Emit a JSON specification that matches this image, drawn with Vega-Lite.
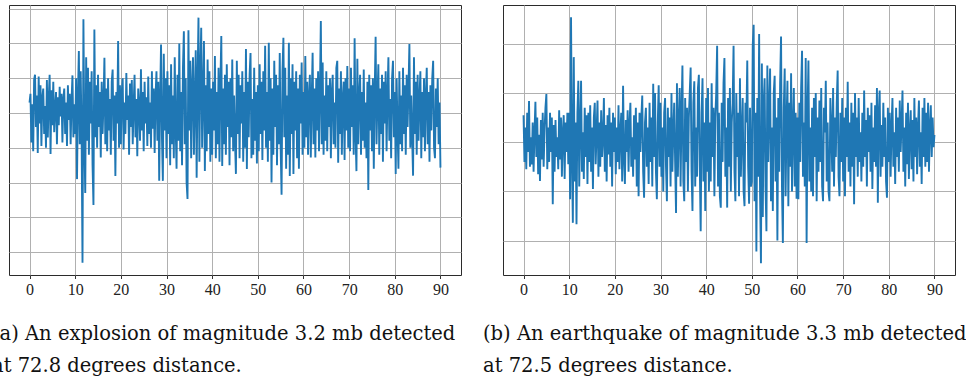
{
  "$schema": "https://vega.github.io/schema/vega-lite/v6.json",
  "background": "white",
  "padding": {"left": -9, "top": 4, "right": 0, "bottom": 0},
  "autosize": {"type": "pad"},
  "spacing": 42,
  "bounds": "flush",
  "config": {
    "view": {"stroke": "#2b2b2b", "strokeWidth": 1},
    "axis": {"gridColor": "#b0b0b0", "gridWidth": 1, "domain": false, "labelFont": "Liberation Serif", "labelFontSize": 16, "labelColor": "#222222", "tickColor": "#333333", "tickSize": 3.5, "labelPadding": 3, "title": null},
    "line": {"color": "#1f77b4", "strokeWidth": 1.9}
  },
  "data": {"values": [
{"t":0,"a":0.3,"b":0.55},{"t":0.2,"a":0.55,"b":-0.4},{"t":0.4,"a":-0.85,"b":0.3},{"t":0.6,"a":0.25,"b":-0.55},{"t":0.8,"a":-1.1,"b":0.6},{"t":1,"a":0.95,"b":-0.2},{"t":1.2,"a":1.1,"b":0.84},{"t":1.4,"a":-0.4,"b":-0.5},{"t":1.6,"a":0.5,"b":0.1},{"t":1.8,"a":-1.15,"b":-0.45},
{"t":2,"a":1.05,"b":0.4},{"t":2.2,"a":-0.3,"b":-0.6},{"t":2.4,"a":0.8,"b":0.2},{"t":2.6,"a":-0.95,"b":0.82},{"t":2.8,"a":0.45,"b":-0.3},{"t":3,"a":0.7,"b":0.5},{"t":3.2,"a":-0.6,"b":-0.65},{"t":3.4,"a":0.2,"b":0.15},{"t":3.6,"a":-1,"b":-0.79},{"t":3.8,"a":0.95,"b":0.45},
{"t":4,"a":-0.7,"b":-0.35},{"t":4.2,"a":0.4,"b":0.6},{"t":4.4,"a":1.1,"b":-0.5},{"t":4.6,"a":-1.18,"b":0.25},{"t":4.8,"a":0.65,"b":0.7},{"t":5,"a":-0.35,"b":0.98},{"t":5.2,"a":0.9,"b":-0.55},{"t":5.4,"a":-0.55,"b":0.3},{"t":5.6,"a":0.15,"b":-0.4},{"t":5.8,"a":0.6,"b":0.6},
{"t":6,"a":-0.9,"b":-0.2},{"t":6.2,"a":0.45,"b":0.5},{"t":6.4,"a":-0.35,"b":-1.26},{"t":6.6,"a":0.75,"b":0.35},{"t":6.8,"a":-0.1,"b":-0.6},{"t":7,"a":0.55,"b":0.45},{"t":7.2,"a":-0.85,"b":-0.3},{"t":7.4,"a":0.4,"b":0.1},{"t":7.6,"a":0.7,"b":-0.55},{"t":7.8,"a":-0.6,"b":0.65},
{"t":8,"a":0.3,"b":-0.35},{"t":8.2,"a":-0.95,"b":0.5},{"t":8.4,"a":0.8,"b":-0.7},{"t":8.6,"a":-0.2,"b":0.2},{"t":8.8,"a":0.55,"b":0.55},{"t":9,"a":-0.9,"b":-0.75},{"t":9.2,"a":0.35,"b":0.4},{"t":9.4,"a":1.08,"b":-0.2},{"t":9.6,"a":-0.7,"b":0.6},{"t":9.8,"a":0.25,"b":-0.45},
{"t":10,"a":-0.6,"b":0.6},{"t":10.2,"a":1,"b":-1.16},{"t":10.4,"a":-1.9,"b":2.54},{"t":10.6,"a":0.5,"b":-0.3},{"t":10.8,"a":1.78,"b":-1.64},{"t":11,"a":-0.9,"b":1.73},{"t":11.2,"a":1.2,"b":-0.8},{"t":11.4,"a":-0.6,"b":0.4},{"t":11.6,"a":-4.3,"b":-1.67},{"t":11.8,"a":2.69,"b":0.6},
{"t":12,"a":-0.7,"b":1.25},{"t":12.2,"a":-2.3,"b":-0.9},{"t":12.4,"a":1.6,"b":0.3},{"t":12.6,"a":-0.8,"b":1.25},{"t":12.8,"a":1.3,"b":-0.6},{"t":13,"a":-1.2,"b":0.2},{"t":13.2,"a":0.9,"b":-0.75},{"t":13.4,"a":-0.3,"b":0.7},{"t":13.6,"a":1.2,"b":-0.3},{"t":13.8,"a":-1.5,"b":0.55},
{"t":14,"a":-2.64,"b":-0.85},{"t":14.2,"a":2.4,"b":0.6},{"t":14.4,"a":-0.7,"b":-0.4},{"t":14.6,"a":0.8,"b":0.75},{"t":14.8,"a":-1,"b":-0.6},{"t":15,"a":1.1,"b":0.3},{"t":15.2,"a":-0.4,"b":-0.95},{"t":15.4,"a":0.6,"b":0.5},{"t":15.6,"a":-1.28,"b":0.8},{"t":15.8,"a":0.9,"b":-0.45},
{"t":16,"a":-0.6,"b":0.2},{"t":16.2,"a":0.3,"b":0.85},{"t":16.4,"a":1.59,"b":-0.7},{"t":16.6,"a":-0.9,"b":0.4},{"t":16.8,"a":0.7,"b":-0.5},{"t":17,"a":-1.1,"b":0.65},{"t":17.2,"a":1,"b":-0.3},{"t":17.4,"a":-0.5,"b":0.1},{"t":17.6,"a":0.4,"b":0.9},{"t":17.8,"a":-1.2,"b":-0.6},
{"t":18,"a":0.9,"b":0.35},{"t":18.2,"a":1.25,"b":-0.8},{"t":18.4,"a":-0.8,"b":0.55},{"t":18.6,"a":0.5,"b":-0.25},{"t":18.8,"a":-1.81,"b":0.7},{"t":19,"a":0.6,"b":-0.5},{"t":19.2,"a":-0.3,"b":0.4},{"t":19.4,"a":2.07,"b":-0.9},{"t":19.6,"a":-1,"b":0.6},{"t":19.8,"a":0.8,"b":-0.2},
{"t":20,"a":-0.9,"b":0.5},{"t":20.2,"a":0.6,"b":-0.65},{"t":20.4,"a":1,"b":0.3},{"t":20.6,"a":-1.05,"b":-0.4},{"t":20.8,"a":0.3,"b":0.75},{"t":21,"a":-0.6,"b":-0.55},{"t":21.2,"a":1.15,"b":0.2},{"t":21.4,"a":-0.2,"b":0.6},{"t":21.6,"a":0.5,"b":-0.8},{"t":21.8,"a":-1.2,"b":1.15},
{"t":22,"a":0.85,"b":-0.3},{"t":22.2,"a":-0.4,"b":-0.85},{"t":22.4,"a":0.95,"b":0.45},{"t":22.6,"a":-0.9,"b":-0.2},{"t":22.8,"a":0.2,"b":0.65},{"t":23,"a":1.1,"b":-0.6},{"t":23.2,"a":-0.7,"b":0.35},{"t":23.4,"a":0.4,"b":0.8},{"t":23.6,"a":-1.24,"b":-0.5},{"t":23.8,"a":0.7,"b":0.1},
{"t":24,"a":0.2,"b":-0.7},{"t":24.2,"a":-0.8,"b":0.55},{"t":24.4,"a":1.26,"b":-0.35},{"t":24.6,"a":-0.5,"b":0.7},{"t":24.8,"a":0.6,"b":-0.9},{"t":25,"a":-1.1,"b":0.4},{"t":25.2,"a":0.9,"b":-1.1},{"t":25.4,"a":-0.3,"b":0.6},{"t":25.6,"a":0.45,"b":-0.2},{"t":25.8,"a":-0.95,"b":0.5},
{"t":26,"a":1.05,"b":0.95},{"t":26.2,"a":-0.6,"b":-0.6},{"t":26.4,"a":0.3,"b":-1.13},{"t":26.6,"a":-1,"b":0.4},{"t":26.8,"a":1.2,"b":0.7},{"t":27,"a":-0.45,"b":-0.5},{"t":27.2,"a":0.7,"b":0.3},{"t":27.4,"a":-1.15,"b":-0.85},{"t":27.6,"a":0.5,"b":0.8},{"t":27.8,"a":1.2,"b":-0.4},
{"t":28,"a":-0.8,"b":0.5},{"t":28.2,"a":0.9,"b":-0.9},{"t":28.4,"a":-1.95,"b":1.19},{"t":28.6,"a":0.4,"b":-0.3},{"t":28.8,"a":1.97,"b":1},{"t":29,"a":-0.7,"b":-0.6},{"t":29.2,"a":-1.95,"b":-1.16},{"t":29.4,"a":1.7,"b":0.4},{"t":29.6,"a":-0.5,"b":1.16},{"t":29.8,"a":1,"b":-0.5},
{"t":30,"a":-1.3,"b":0.8},{"t":30.2,"a":1.2,"b":-0.7},{"t":30.4,"a":-0.6,"b":0.3},{"t":30.6,"a":0.8,"b":-1},{"t":30.8,"a":-1.5,"b":0.6},{"t":31,"a":1.4,"b":0.9},{"t":31.2,"a":-0.9,"b":-0.5},{"t":31.4,"a":0.5,"b":-1.2},{"t":31.6,"a":-1.3,"b":0.7},{"t":31.8,"a":1.6,"b":-0.3},
{"t":32,"a":-0.4,"b":0.5},{"t":32.2,"a":-1.6,"b":-0.9},{"t":32.4,"a":1.1,"b":1},{"t":32.6,"a":-0.8,"b":-0.6},{"t":32.8,"a":2,"b":0.2},{"t":33,"a":-1.1,"b":0.8},{"t":33.2,"a":0.6,"b":-0.4},{"t":33.4,"a":-1.5,"b":-1.44},{"t":33.6,"a":1.3,"b":1.2},{"t":33.8,"a":2.35,"b":-0.7},
{"t":34,"a":-0.9,"b":0.4},{"t":34.2,"a":1,"b":1.1},{"t":34.4,"a":-2,"b":-0.9},{"t":34.6,"a":-2.47,"b":0.6},{"t":34.8,"a":2.38,"b":1.56},{"t":35,"a":-0.5,"b":-0.8},{"t":35.2,"a":1.5,"b":-1.2},{"t":35.4,"a":-1.3,"b":0.9},{"t":35.6,"a":0.7,"b":-0.4},{"t":35.8,"a":1.6,"b":0.7},
{"t":36,"a":-1.2,"b":-1},{"t":36.2,"a":0.4,"b":0.5},{"t":36.4,"a":1.8,"b":1},{"t":36.6,"a":-1.86,"b":1.52},{"t":36.8,"a":0.9,"b":-0.6},{"t":37,"a":2.74,"b":-1.4},{"t":37.2,"a":-1.4,"b":0.8},{"t":37.4,"a":1.2,"b":1.24},{"t":37.6,"a":2.45,"b":-0.9},{"t":37.8,"a":-1,"b":0.3},
{"t":38,"a":0.5,"b":-0.7},{"t":38.2,"a":2.07,"b":1.1},{"t":38.4,"a":-1.67,"b":1.37},{"t":38.6,"a":0.8,"b":-0.5},{"t":38.8,"a":-1.1,"b":-1.81},{"t":39,"a":1.54,"b":0.6},{"t":39.2,"a":-0.6,"b":1.3},{"t":39.4,"a":1.2,"b":-0.8},{"t":39.6,"a":-1.4,"b":0.4},{"t":39.8,"a":0.7,"b":-1.4},
{"t":40,"a":-1.2,"b":0.9},{"t":40.2,"a":0.9,"b":-0.6},{"t":40.4,"a":-0.5,"b":1.1},{"t":40.6,"a":1.64,"b":-1},{"t":40.8,"a":-1.3,"b":0.4},{"t":41,"a":0.6,"b":-0.8},{"t":41.2,"a":-0.9,"b":1.2},{"t":41.4,"a":1.3,"b":-0.3},{"t":41.6,"a":-1.4,"b":0.7},{"t":41.8,"a":0.8,"b":-1.1},
{"t":42,"a":2.21,"b":0.5},{"t":42.2,"a":-1.52,"b":1},{"t":42.4,"a":0.7,"b":1.96},{"t":42.6,"a":-0.9,"b":-0.9},{"t":42.8,"a":1.1,"b":0.6},{"t":43,"a":-1.2,"b":-1.1},{"t":43.2,"a":1.4,"b":-1.33},{"t":43.4,"a":-0.4,"b":0.8},{"t":43.6,"a":0.9,"b":-0.4},{"t":43.8,"a":-1.5,"b":1.2},
{"t":44,"a":1,"b":1.71},{"t":44.2,"a":-0.7,"b":-0.7},{"t":44.4,"a":1.54,"b":0.3},{"t":44.6,"a":-1.1,"b":-1.33},{"t":44.8,"a":0.5,"b":0.9},{"t":45,"a":-0.8,"b":-0.5},{"t":45.2,"a":-1.75,"b":1.1},{"t":45.4,"a":1.5,"b":-1},{"t":45.6,"a":-0.6,"b":0.4},{"t":45.8,"a":1.1,"b":0.8},
{"t":46,"a":-1.3,"b":1.96},{"t":46.2,"a":0.8,"b":-0.6},{"t":46.4,"a":-0.3,"b":-1.2},{"t":46.6,"a":1.2,"b":1},{"t":46.8,"a":-1.4,"b":-0.3},{"t":47,"a":0.6,"b":0.6},{"t":47.2,"a":-1,"b":-1.1},{"t":47.4,"a":1.84,"b":1.3},{"t":47.6,"a":-1.61,"b":-0.7},{"t":47.8,"a":0.9,"b":0.2},
{"t":48,"a":-0.7,"b":0.9},{"t":48.2,"a":1.1,"b":-1},{"t":48.4,"a":1.72,"b":-1.3},{"t":48.6,"a":-1.3,"b":0.8},{"t":48.8,"a":0.4,"b":0.4},{"t":49,"a":-1.2,"b":1.66},{"t":49.2,"a":1.3,"b":-0.5},{"t":49.4,"a":-0.8,"b":-1.25},{"t":49.6,"a":0.6,"b":0.7},{"t":49.8,"a":-1.45,"b":-0.9},
{"t":50,"a":0.8,"b":-0.8},{"t":50.2,"a":-1.1,"b":1.97},{"t":50.4,"a":1.4,"b":2.39},{"t":50.6,"a":-0.6,"b":-1.2},{"t":50.8,"a":0.9,"b":0.6},{"t":51,"a":-1.35,"b":-2.22},{"t":51.2,"a":1.2,"b":0.9},{"t":51.4,"a":-0.5,"b":-0.7},{"t":51.6,"a":1.93,"b":2.2},{"t":51.8,"a":-1,"b":-1},
{"t":52,"a":0.6,"b":-2.46},{"t":52.2,"a":-1.4,"b":1.6},{"t":52.4,"a":2.02,"b":-1.52},{"t":52.6,"a":-0.8,"b":0.8},{"t":52.8,"a":1,"b":1.3},{"t":53,"a":-2,"b":-0.9},{"t":53.2,"a":0.7,"b":-1.81},{"t":53.4,"a":-1.2,"b":1.56},{"t":53.6,"a":1.5,"b":-0.4},{"t":53.8,"a":-0.4,"b":0.7},
{"t":54,"a":1.1,"b":1.5},{"t":54.2,"a":-1.5,"b":-1.2},{"t":54.4,"a":0.8,"b":0.3},{"t":54.6,"a":-0.9,"b":-1.4},{"t":54.8,"a":1.72,"b":1},{"t":55,"a":-1,"b":1.35},{"t":55.2,"a":-2.35,"b":-0.8},{"t":55.4,"a":1.2,"b":0.5},{"t":55.6,"a":2.16,"b":-2},{"t":55.8,"a":-0.7,"b":0.9},
{"t":56,"a":1.3,"b":-0.6},{"t":56.2,"a":-1.6,"b":1.2},{"t":56.4,"a":0.5,"b":2.15},{"t":56.6,"a":-1.2,"b":-0.9},{"t":56.8,"a":2.02,"b":-2.05},{"t":57,"a":-1.81,"b":0.7},{"t":57.2,"a":1,"b":1.5},{"t":57.4,"a":-0.6,"b":-1.1},{"t":57.6,"a":1.4,"b":0.4},{"t":57.8,"a":-1.75,"b":1.25},
{"t":58,"a":0.9,"b":-1.3},{"t":58.2,"a":-0.5,"b":0.8},{"t":58.4,"a":1.2,"b":-0.5},{"t":58.6,"a":-1.3,"b":1.4},{"t":58.8,"a":0.7,"b":-1},{"t":59,"a":-1.6,"b":0.3},{"t":59.2,"a":1.1,"b":1.1},{"t":59.4,"a":-0.3,"b":-0.9},{"t":59.6,"a":1.45,"b":0.6},{"t":59.8,"a":-1.2,"b":-1.15},
{"t":60,"a":0.6,"b":0.5},{"t":60.2,"a":-1,"b":-1.16},{"t":60.4,"a":1.64,"b":0.8},{"t":60.6,"a":-0.7,"b":-0.4},{"t":60.8,"a":0.9,"b":1.1},{"t":61,"a":-1.2,"b":1.86},{"t":61.2,"a":0.5,"b":-0.7},{"t":61.4,"a":1.1,"b":0.4},{"t":61.6,"a":-1.28,"b":-0.9},{"t":61.8,"a":0.4,"b":1.71},
{"t":62,"a":1.73,"b":-2.05},{"t":62.2,"a":-0.9,"b":0.6},{"t":62.4,"a":0.7,"b":1.66},{"t":62.6,"a":-1.28,"b":-0.8},{"t":62.8,"a":1,"b":0.3},{"t":63,"a":-0.5,"b":-1},{"t":63.2,"a":1.2,"b":0.7},{"t":63.4,"a":-1.1,"b":-1.1},{"t":63.6,"a":0.6,"b":0.9},{"t":63.8,"a":2.64,"b":-0.3},
{"t":64,"a":-0.9,"b":1},{"t":64.2,"a":1.45,"b":-1.2},{"t":64.4,"a":-1.2,"b":0.5},{"t":64.6,"a":0.5,"b":-0.6},{"t":64.8,"a":-0.8,"b":0.85},{"t":65,"a":1.2,"b":-0.4},{"t":65.2,"a":-1.1,"b":1.1},{"t":65.4,"a":0.8,"b":-0.9},{"t":65.6,"a":-0.4,"b":-1.2},{"t":65.8,"a":1,"b":0.7},
{"t":66,"a":-1.3,"b":0.2},{"t":66.2,"a":0.6,"b":1.25},{"t":66.4,"a":1.1,"b":-0.8},{"t":66.6,"a":-0.9,"b":0.4},{"t":66.8,"a":0.3,"b":-1},{"t":67,"a":-1,"b":-1.2},{"t":67.2,"a":1.3,"b":0.9},{"t":67.4,"a":1.5,"b":0.3},{"t":67.6,"a":-1.43,"b":-0.6},{"t":67.8,"a":0.7,"b":1.1},
{"t":68,"a":-0.6,"b":-0.9},{"t":68.2,"a":1.2,"b":0.5},{"t":68.4,"a":-1.2,"b":-0.3},{"t":68.6,"a":0.4,"b":0.8},{"t":68.8,"a":0.9,"b":1.46},{"t":69,"a":-1.35,"b":-0.7},{"t":69.2,"a":1,"b":-1.1},{"t":69.4,"a":-0.5,"b":0.6},{"t":69.6,"a":1.35,"b":-0.4},{"t":69.8,"a":-1,"b":0.9},
{"t":70,"a":0.7,"b":-0.8},{"t":70.2,"a":-1.1,"b":0.5},{"t":70.4,"a":1.3,"b":-1.1},{"t":70.6,"a":-0.4,"b":0.7},{"t":70.8,"a":0.8,"b":-0.3},{"t":71,"a":-1.2,"b":1.23},{"t":71.2,"a":2.15,"b":-0.6},{"t":71.4,"a":-0.6,"b":0.4},{"t":71.6,"a":-1.67,"b":-0.9},{"t":71.8,"a":1.56,"b":0.8},
{"t":72,"a":-0.9,"b":-0.5},{"t":72.2,"a":0.5,"b":0.6},{"t":72.4,"a":1.1,"b":-1.26},{"t":72.6,"a":-1.2,"b":1},{"t":72.8,"a":0.6,"b":-0.3},{"t":73,"a":-0.8,"b":0.5},{"t":73.2,"a":1.25,"b":-0.7},{"t":73.4,"a":-1,"b":0.9},{"t":73.6,"a":0.3,"b":-0.4},{"t":73.8,"a":-1.3,"b":0.2},
{"t":74,"a":0.9,"b":-0.8},{"t":74.2,"a":-2.21,"b":0.6},{"t":74.4,"a":1.1,"b":-0.5},{"t":74.6,"a":-0.5,"b":1.05},{"t":74.8,"a":0.8,"b":-0.3},{"t":75,"a":-1.1,"b":0.45},{"t":75.2,"a":1,"b":-0.9},{"t":75.4,"a":-1.6,"b":0.7},{"t":75.6,"a":0.6,"b":-0.2},{"t":75.8,"a":2.19,"b":0.55},
{"t":76,"a":-0.9,"b":-0.6},{"t":76.2,"a":0.4,"b":0.8},{"t":76.4,"a":1.4,"b":-0.95},{"t":76.6,"a":-1.2,"b":0.3},{"t":76.8,"a":0.7,"b":-0.4},{"t":77,"a":-0.6,"b":0.75},{"t":77.2,"a":1.1,"b":-0.5},{"t":77.4,"a":-1.4,"b":1.1},{"t":77.6,"a":0.9,"b":-1.23},{"t":77.8,"a":-0.3,"b":0.6},
{"t":78,"a":1.2,"b":1.05},{"t":78.2,"a":-1.1,"b":-0.7},{"t":78.4,"a":0.5,"b":0.35},{"t":78.6,"a":1.6,"b":-0.5},{"t":78.8,"a":-0.8,"b":0.8},{"t":79,"a":0.4,"b":-0.3},{"t":79.2,"a":-1.3,"b":0.5},{"t":79.4,"a":1,"b":-0.8},{"t":79.6,"a":1.5,"b":-1.13},{"t":79.8,"a":-0.7,"b":0.7},
{"t":80,"a":0.6,"b":-0.4},{"t":80.2,"a":-1.75,"b":0.6},{"t":80.4,"a":1,"b":-0.7},{"t":80.6,"a":-0.5,"b":0.3},{"t":80.8,"a":-1.6,"b":0.9},{"t":81,"a":1.2,"b":-0.5},{"t":81.2,"a":-0.9,"b":0.2},{"t":81.4,"a":0.5,"b":-0.85},{"t":81.6,"a":-1.1,"b":0.7},{"t":81.8,"a":1.3,"b":-0.3},
{"t":82,"a":-0.6,"b":0.5},{"t":82.2,"a":0.8,"b":-0.6},{"t":82.4,"a":-1.2,"b":0.85},{"t":82.6,"a":1.1,"b":-0.2},{"t":82.8,"a":-0.4,"b":0.4},{"t":83,"a":0.7,"b":1.05},{"t":83.2,"a":1.98,"b":-0.6},{"t":83.4,"a":-1,"b":0.3},{"t":83.6,"a":0.5,"b":-0.9},{"t":83.8,"a":-0.7,"b":0.6},
{"t":84,"a":-1.8,"b":-0.45},{"t":84.2,"a":1.6,"b":0.8},{"t":84.4,"a":-0.6,"b":-0.75},{"t":84.6,"a":0.9,"b":0.2},{"t":84.8,"a":-1.2,"b":0.65},{"t":85,"a":1.1,"b":-0.55},{"t":85.2,"a":-0.8,"b":0.45},{"t":85.4,"a":0.4,"b":-0.8},{"t":85.6,"a":1.2,"b":0.9},{"t":85.8,"a":-1.3,"b":-0.3},
{"t":86,"a":0.6,"b":0.5},{"t":86.2,"a":-0.7,"b":-0.65},{"t":86.4,"a":1,"b":0.3},{"t":86.6,"a":-1.1,"b":0.85},{"t":86.8,"a":0.5,"b":-0.5},{"t":87,"a":1.3,"b":0.2},{"t":87.2,"a":-0.9,"b":-0.85},{"t":87.4,"a":0.6,"b":0.7},{"t":87.6,"a":-1.4,"b":-0.3},{"t":87.8,"a":0.8,"b":0.9},
{"t":88,"a":-0.5,"b":-0.5},{"t":88.2,"a":1,"b":0.6},{"t":88.4,"a":1.5,"b":-0.4},{"t":88.6,"a":-1,"b":0.8},{"t":88.8,"a":-1.3,"b":-0.6},{"t":89,"a":0.7,"b":0.3},{"t":89.2,"a":-0.4,"b":0.75},{"t":89.4,"a":1,"b":-0.3},{"t":89.6,"a":-0.9,"b":0.5},{"t":89.8,"a":0.3,"b":-0.1},
{"t":90,"a":-1.57,"b":0.15}
  ]},
  "hconcat": [
    {
      "width": 452, "height": 270,
      "title": {"text": ["(a) An explosion of magnitude 3.2 mb detected", "at 72.8 degrees distance."], "orient": "bottom", "anchor": "start", "align": "left", "dx": -17, "offset": 27, "font": "DejaVu Serif", "fontSize": 19.5, "fontWeight": "normal", "color": "#111111", "lineHeight": 32, "baseline": "top"},
      "mark": {"type": "line"},
      "encoding": {
        "x": {"field": "t", "type": "quantitative", "scale": {"domain": [-4.5, 94.5], "nice": false, "zero": false}, "axis": {"values": [0,10,20,30,40,50,60,70,80,90], "labelFlush": false}},
        "y": {"field": "a", "type": "quantitative", "scale": {"domain": [-4.655, 3.103], "nice": false, "zero": false}, "axis": {"values": [-4,-3,-2,-1,0,1,2,3], "labels": false, "ticks": false}}
      }
    },
    {
      "width": 452, "height": 270,
      "title": {"text": ["(b) An earthquake of magnitude 3.3 mb detected", "at 72.5 degrees distance."], "orient": "bottom", "anchor": "start", "align": "left", "dx": -20, "offset": 27, "font": "DejaVu Serif", "fontSize": 19.5, "fontWeight": "normal", "color": "#111111", "lineHeight": 32, "baseline": "top"},
      "mark": {"type": "line"},
      "encoding": {
        "x": {"field": "t", "type": "quantitative", "scale": {"domain": [-4.5, 94.5], "nice": false, "zero": false}, "axis": {"values": [0,10,20,30,40,50,60,70,80,90], "labelFlush": false}},
        "y": {"field": "b", "type": "quantitative", "scale": {"domain": [-2.70, 2.79], "nice": false, "zero": false}, "axis": {"values": [-2,-1,0,1,2], "labels": false, "ticks": false}}
      }
    }
  ]
}
